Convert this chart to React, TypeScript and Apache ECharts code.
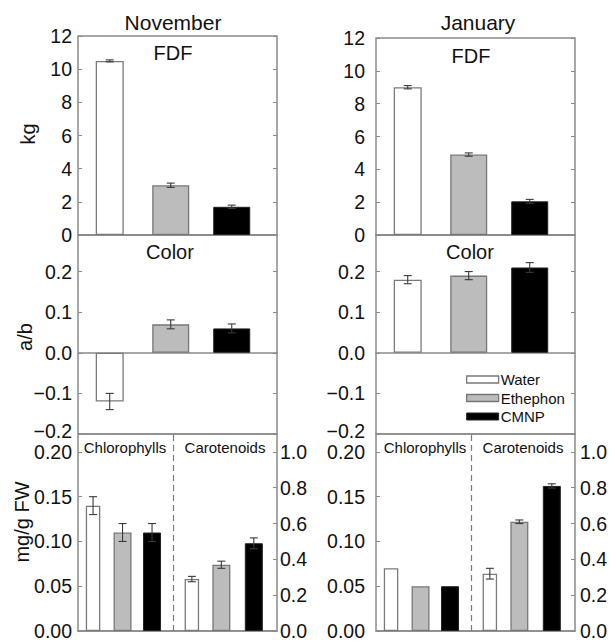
import React, { useEffect, useRef } from 'react';
import * as echarts from 'echarts';

// ---------- data ----------
const treatments = ['Water', 'Ethephon', 'CMNP'];
const months = ['November', 'January'];

const fdfNov = [10.5, 3.0, 1.7];
const fdfNovErr = [0.06, 0.13, 0.1];
const fdfJan = [9.0, 4.9, 2.05];
const fdfJanErr = [0.1, 0.1, 0.12];

const colorNov = [-0.12, 0.07, 0.06];
const colorNovErr = [0.02, 0.011, 0.011];
const colorJan = [0.18, 0.19, 0.21];
const colorJanErr = [0.01, 0.01, 0.012];

const chlNov = [0.14, 0.11, 0.11];
const chlNovErr = [0.01, 0.01, 0.01];
const chlJan = [0.07, 0.05, 0.05];
const chlJanErr = [0, 0, 0];

const carNov = [0.29, 0.37, 0.49];
const carNovErr = [0.015, 0.02, 0.03];
const carJan = [0.32, 0.61, 0.81];
const carJanErr = [0.03, 0.01, 0.012];

const fdfTicks = { min: 0, max: 12, interval: 2 };
const colorTicks = { min: -0.2, max: 0.29, interval: 0.1 };
const chlTicks = { min: 0, max: 0.22, interval: 0.05 };
const carTicks = { min: 0, max: 1.1, interval: 0.2 };

// ---------- layout (not data) ----------
const FONT = '"Liberation Sans", Arial, Helvetica, sans-serif';
const W = 199;
const MID_TOP = 235;
const BOT_TOP = 434;
const BOT_BOTTOM = 631;
const COLS = [
  { left: 78, top: 36, labelMargin: 6, rightMargin: 3 },
  { left: 376, top: 38, labelMargin: 11, rightMargin: 5 },
];
const TOP_SLOTS = [0, 1, 2];
const TOP_RANGE = [-0.52, 2.742];
const BOT_CHL_SLOTS = [0, 1, 2];
const BOT_CAR_SLOTS = [3.35, 4.35, 5.45];
const BOT_RANGE = [-0.51, 6.236];
const DIVIDER = 2.71;
const TOP_WIDTHS = [28, 37, 37];
const BOT_WIDTHS = [14.5, 18, 18];

const FRAME = '#8a8a8a';
const barStyles = [
  { color: '#ffffff', borderColor: '#7a7a7a', borderWidth: 1.3 },
  { color: '#bcbcbc', borderColor: '#777777', borderWidth: 1.3 },
  { color: '#000000', borderColor: '#222222', borderWidth: 1 },
];

const renderErr = (params: any, api: any) => {
  const x = api.value(0);
  const lo = api.value(1);
  const hi = api.value(2);
  const pLo = api.coord([x, lo]);
  const pHi = api.coord([x, hi]);
  const cap = 4;
  const st = { stroke: '#3a3a3a', lineWidth: 1.1 };
  return {
    type: 'group',
    children: [
      { type: 'line', shape: { x1: pLo[0], y1: pLo[1], x2: pHi[0], y2: pHi[1] }, style: st },
      { type: 'line', shape: { x1: pHi[0] - cap, y1: pHi[1], x2: pHi[0] + cap, y2: pHi[1] }, style: st },
      { type: 'line', shape: { x1: pLo[0] - cap, y1: pLo[1], x2: pLo[0] + cap, y2: pLo[1] }, style: st },
    ],
  };
};

function fmtFactory(t: any, digits: number, liftMin: boolean) {
  return (v: number) => {
    const k = v / t.interval;
    if (Math.abs(k - Math.round(k)) > 1e-6) return '';
    const s = (Math.abs(v) < 1e-9 ? (0).toFixed(digits) : v.toFixed(digits)).replace('-', '\u2212');
    if (liftMin && Math.abs(v - t.min) < 1e-9) return '{lo|' + s + '}';
    return s;
  };
}

function buildOption() {
  const grid: any[] = [];
  const xAxis: any[] = [];
  const yAxis: any[] = [];
  const series: any[] = [];

  const addGrid = (left: number, top: number, height: number) => {
    grid.push({
      left, top, width: W, height,
      show: true, borderColor: FRAME, borderWidth: 1.5,
      backgroundColor: 'transparent', containLabel: false,
    });
    return grid.length - 1;
  };
  const addX = (gi: number, range: number[], showLine: boolean) => {
    xAxis.push({
      type: 'value', gridIndex: gi, min: range[0], max: range[1],
      show: showLine,
      axisLine: { show: showLine, onZero: true, lineStyle: { color: FRAME, width: 1.5 } },
      axisTick: { show: false }, axisLabel: { show: false }, splitLine: { show: false },
    });
    return xAxis.length - 1;
  };
  const addY = (gi: number, t: any, pos: string, labels: boolean, margin: number, digits: number, liftMin = false) => {
    yAxis.push({
      type: 'value', gridIndex: gi, position: pos,
      min: t.min, max: t.max, interval: t.interval,
      axisLine: { show: false, onZero: false },
      axisTick: { show: true, inside: true, length: 4, lineStyle: { color: FRAME, width: 1 } },
      axisLabel: {
        show: labels, fontSize: 19.5, color: '#111', fontFamily: FONT, margin,
        formatter: fmtFactory(t, digits, liftMin),
        rich: { lo: { fontSize: 19.5, color: '#111', fontFamily: FONT, padding: [0, 0, 6, 0] } },
      },
      splitLine: { show: false },
    });
    return yAxis.length - 1;
  };

  const addBars = (gi: number, yi: number, range: number[], slots: number[], widths: number[],
    vals: number[], errs: number[], divider?: number, firstInGrid = true) => {
    const xs: number[] = [];
    slots.forEach((s, i) => {
      const xi = addX(gi, range, i === 0 && firstInGrid);
      xs.push(xi);
      const ser: any = {
        type: 'bar', name: treatments[i], xAxisIndex: xi, yAxisIndex: yi,
        data: [[s, vals[i]]], barWidth: widths[i], itemStyle: barStyles[i], silent: true, z: 2,
      };
      if (i === 0 && divider !== undefined) {
        ser.markLine = {
          silent: true, symbol: ['none', 'none'], label: { show: false },
          lineStyle: { type: [6, 4], color: '#7a7a7a', width: 1.2 },
          data: [{ xAxis: divider }],
        };
      }
      series.push(ser);
    });
    const errData = slots
      .map((s, i) => [s, vals[i] - errs[i], vals[i] + errs[i], errs[i]])
      .filter((d) => d[3] > 0);
    series.push({
      type: 'custom', xAxisIndex: xs[0], yAxisIndex: yi, renderItem: renderErr,
      encode: { x: 0, y: [1, 2] }, data: errData, silent: true, z: 5,
    });
  };

  const fdf = [fdfNov, fdfJan];
  const fdfE = [fdfNovErr, fdfJanErr];
  const col = [colorNov, colorJan];
  const colE = [colorNovErr, colorJanErr];
  const chl = [chlNov, chlJan];
  const chlE = [chlNovErr, chlJanErr];
  const car = [carNov, carJan];
  const carE = [carNovErr, carJanErr];

  COLS.forEach((c, ci) => {
    // top panel: FDF
    const g0 = addGrid(c.left, c.top, MID_TOP - c.top);
    const y0 = addY(g0, fdfTicks, 'left', true, c.labelMargin, 0);
    addY(g0, fdfTicks, 'right', false, 4, 0);
    addBars(g0, y0, TOP_RANGE, TOP_SLOTS, TOP_WIDTHS, fdf[ci], fdfE[ci]);

    // middle panel: Color
    const g1 = addGrid(c.left, MID_TOP, BOT_TOP - MID_TOP);
    const y1 = addY(g1, colorTicks, 'left', true, c.labelMargin, 1, true);
    addY(g1, colorTicks, 'right', false, 4, 1);
    addBars(g1, y1, TOP_RANGE, TOP_SLOTS, TOP_WIDTHS, col[ci], colE[ci]);

    // bottom panel: pigments
    const g2 = addGrid(c.left, BOT_TOP, BOT_BOTTOM - BOT_TOP);
    const y2 = addY(g2, chlTicks, 'left', true, c.labelMargin, 2);
    const y2r = addY(g2, carTicks, 'right', true, c.rightMargin, 1);
    addBars(g2, y2, BOT_RANGE, BOT_CHL_SLOTS, BOT_WIDTHS, chl[ci], chlE[ci], DIVIDER, true);
    addBars(g2, y2r, BOT_RANGE, BOT_CAR_SLOTS, BOT_WIDTHS, car[ci], carE[ci], undefined, false);
  });

  const txt = (text: string, x: number, y: number, size: number, rot = 0) => ({
    type: 'text', x, y, rotation: rot, silent: true,
    style: {
      text, fontSize: size, fontFamily: FONT, fill: '#111',
      textAlign: 'center', textVerticalAlign: 'middle', align: 'center', verticalAlign: 'middle',
    },
  });

  const graphic = [
    txt(months[0], 173, 22, 21),
    txt(months[1], 478, 22, 21),
    txt('FDF', 173, 53, 20),
    txt('FDF', 471, 56, 20),
    txt('Color', 170, 252, 20),
    txt('Color', 470, 252, 20),
    txt('Chlorophylls', 125, 447, 15),
    txt('Carotenoids', 225, 447, 15),
    txt('Chlorophylls', 425, 447, 15),
    txt('Carotenoids', 523, 447, 15),
    txt('kg', 28, 134, 20, Math.PI / 2),
    txt('a/b', 25, 337, 20, Math.PI / 2),
    txt('mg/g FW', 22, 522, 20, Math.PI / 2),
  ];

  return {
    animation: false,
    backgroundColor: '#ffffff',
    textStyle: { fontFamily: FONT },
    grid, xAxis, yAxis, series, graphic,
    legend: {
      orient: 'vertical', left: 466, top: 372, padding: 0,
      itemWidth: 32, itemHeight: 7, itemGap: 3.5,
      selectedMode: false,
      textStyle: { fontSize: 15, color: '#111', fontFamily: FONT, padding: [0, 0, 0, -3] },
      data: treatments.map((n, i) => ({ name: n, icon: 'rect', itemStyle: barStyles[i] })),
    },
  };
}

export default function App() {
  const ref = useRef<HTMLDivElement>(null);
  useEffect(() => {
    if (!ref.current) return;
    const chart = echarts.init(ref.current, undefined, { renderer: 'svg' });
    chart.setOption(buildOption() as any);
    return () => chart.dispose();
  }, []);
  return (
    <div
      ref={ref}
      style={{ position: 'fixed', left: 0, top: 0, width: 612, height: 642, background: '#fff' }}
    />
  );
}
